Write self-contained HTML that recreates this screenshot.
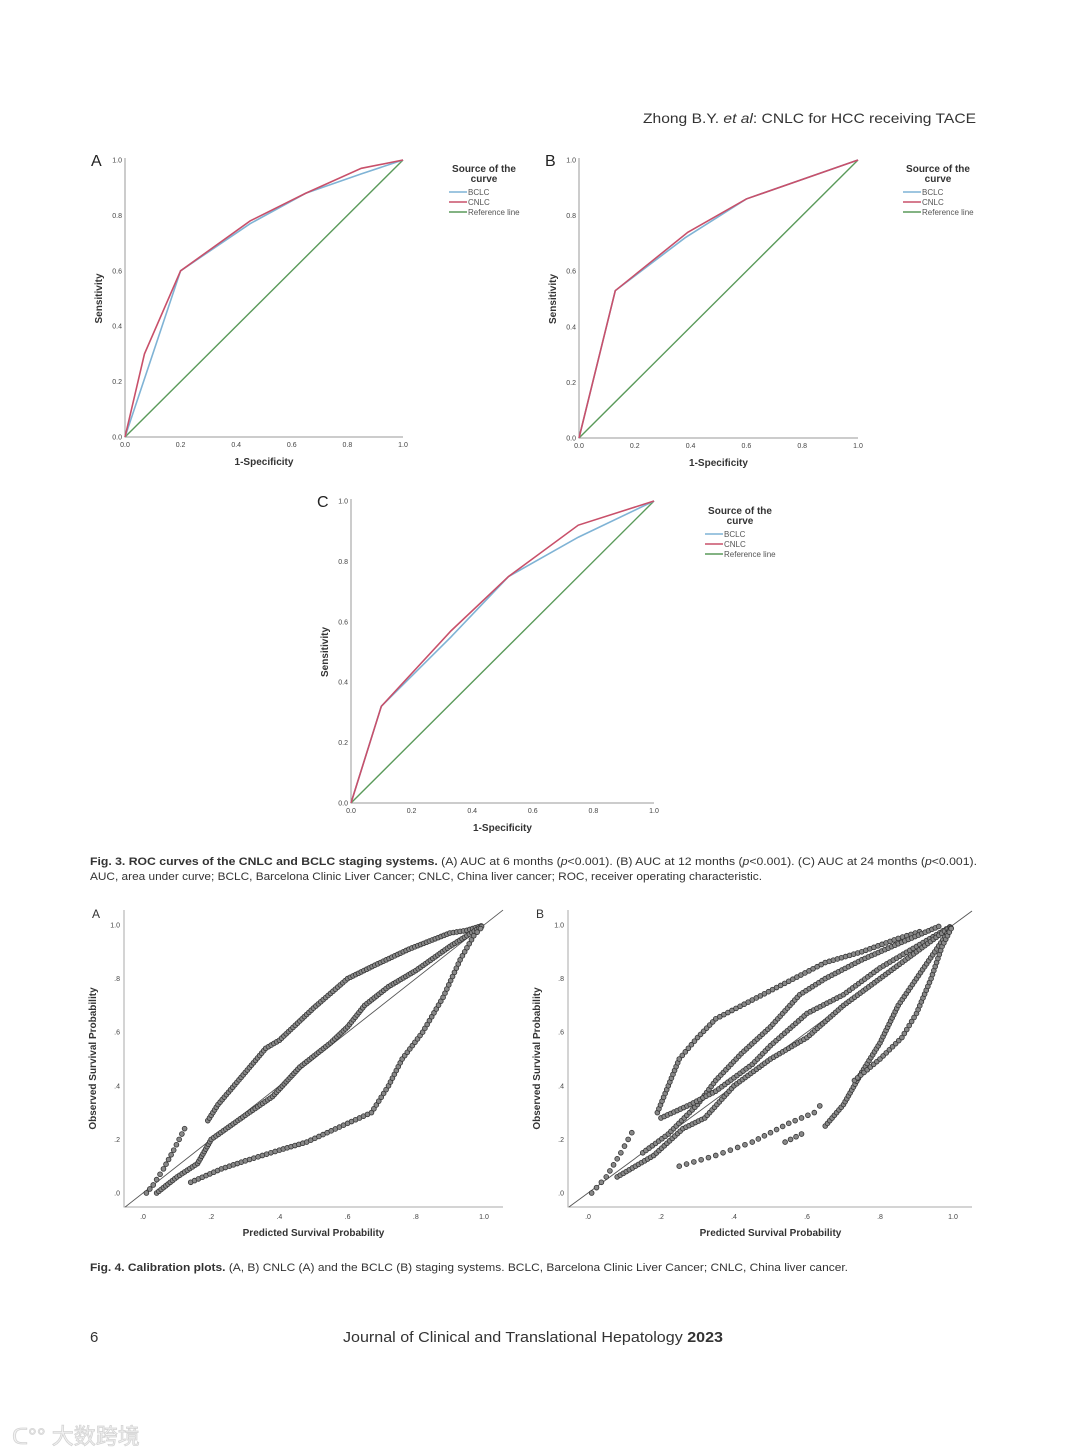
<!DOCTYPE html>
<html><head><meta charset="utf-8"><style>
html,body{margin:0;padding:0;background:#fff;}
svg{display:block;}
text{font-family:"Liberation Sans","Noto Sans CJK SC",sans-serif;}
</style></head><body>
<svg id="page" width="1080" height="1454" viewBox="0 0 1080 1454" xmlns="http://www.w3.org/2000/svg">
<rect width="1080" height="1454" fill="#fff"/>
<text x="976" y="123" text-anchor="end" font-size="14" fill="#333" textLength="333" lengthAdjust="spacingAndGlyphs">Zhong B.Y. <tspan font-style="italic">et al</tspan>: CNLC for HCC receiving TACE</text>
<g id="charts"></g>
<text x="90" y="865" font-size="11" fill="#333" textLength="887" lengthAdjust="spacingAndGlyphs"><tspan font-weight="bold">Fig. 3.  ROC curves of the CNLC and BCLC staging systems.</tspan> (A) AUC at 6 months (<tspan font-style="italic">p</tspan>&lt;0.001). (B) AUC at 12 months (<tspan font-style="italic">p</tspan>&lt;0.001). (C) AUC at 24 months (<tspan font-style="italic">p</tspan>&lt;0.001).</text>
<text x="90" y="880" font-size="11" fill="#333" textLength="672" lengthAdjust="spacingAndGlyphs">AUC, area under curve; BCLC, Barcelona Clinic Liver Cancer; CNLC, China liver cancer; ROC, receiver operating characteristic.</text>
<text x="90" y="1271" font-size="11" fill="#333" textLength="758" lengthAdjust="spacingAndGlyphs"><tspan font-weight="bold">Fig. 4.  Calibration plots.</tspan> (A, B) CNLC (A) and the BCLC (B) staging systems. BCLC, Barcelona Clinic Liver Cancer; CNLC, China liver cancer.</text>
<text x="90" y="1342" font-size="15" fill="#333">6</text>
<text x="343" y="1342" font-size="15" fill="#333" textLength="380" lengthAdjust="spacingAndGlyphs">Journal of Clinical and Translational Hepatology <tspan font-weight="bold">2023</tspan></text>
<text x="12" y="1444" font-size="22" fill="#f2f2f2" stroke="#d4d4d4" stroke-width="0.8">ᑕ°° 大数跨境</text>
</svg>
<script>
// ROC data
const rocA_bclc_x=[0,0.2,0.45,0.65,0.85,1];
const rocA_bclc_y=[0,0.6,0.77,0.88,0.95,1];
const rocA_cnlc_x=[0,0.07,0.2,0.45,0.65,0.85,1];
const rocA_cnlc_y=[0,0.3,0.6,0.78,0.88,0.97,1];
const rocB_bclc_x=[0,0.13,0.38,0.6,1];
const rocB_bclc_y=[0,0.53,0.72,0.86,1];
const rocB_cnlc_x=[0,0.13,0.39,0.6,1];
const rocB_cnlc_y=[0,0.53,0.74,0.86,1];
const rocC_bclc_x=[0,0.1,0.33,0.52,0.75,1];
const rocC_bclc_y=[0,0.32,0.55,0.75,0.88,1];
const rocC_cnlc_x=[0,0.1,0.33,0.52,0.75,1];
const rocC_cnlc_y=[0,0.32,0.57,0.75,0.92,1];
const rocTicks=["0.0","0.2","0.4","0.6","0.8","1.0"];
const calTicks=[".0",".2",".4",".6",".8","1.0"];
// calibration bands (observed vs predicted), A = CNLC
const calA_upper1=[[0.01,0.0],[0.03,0.03],[0.06,0.09],[0.09,0.16],[0.13,0.26]];
const calA_upper2=[[0.19,0.27],[0.22,0.33],[0.3,0.45],[0.36,0.54],[0.4,0.57],[0.5,0.69],[0.6,0.8],[0.68,0.85],[0.78,0.91],[0.9,0.97],[0.95,0.98],[1,1]];
const calA_middle=[[0.04,0.0],[0.1,0.06],[0.16,0.11],[0.2,0.2],[0.3,0.29],[0.38,0.36],[0.46,0.47],[0.55,0.56],[0.6,0.62],[0.65,0.7],[0.72,0.77],[0.8,0.83],[0.9,0.92],[0.95,0.96],[1,1]];
const calA_lower=[[0.14,0.04],[0.23,0.09],[0.3,0.12],[0.4,0.16],[0.48,0.19],[0.6,0.26],[0.67,0.3],[0.72,0.4],[0.76,0.5],[0.82,0.6],[0.88,0.73],[0.93,0.87],[0.97,0.96],[1,1]];
// B = BCLC
const calB_b1a=[[0.01,0.0],[0.05,0.06],[0.09,0.15],[0.13,0.25]];
const calB_b1b=[[0.19,0.3],[0.22,0.4],[0.25,0.5],[0.3,0.58],[0.35,0.65],[0.45,0.72],[0.55,0.79],[0.65,0.86],[0.75,0.9],[0.85,0.95],[0.92,0.98]];
const calB_b2=[[0.15,0.15],[0.22,0.22],[0.3,0.33],[0.35,0.42],[0.42,0.52],[0.5,0.62],[0.58,0.74],[0.65,0.8],[0.75,0.87],[0.85,0.93],[0.97,1]];
const calB_b3=[[0.2,0.28],[0.28,0.33],[0.35,0.38],[0.45,0.48],[0.5,0.55],[0.6,0.67],[0.7,0.74],[0.8,0.84],[0.9,0.92],[1,1]];
const calB_b4=[[0.08,0.06],[0.18,0.14],[0.26,0.24],[0.32,0.28],[0.4,0.4],[0.5,0.5],[0.6,0.58],[0.7,0.7],[0.8,0.8],[0.9,0.9],[1,1]];
const calB_b5=[[0.25,0.1],[0.35,0.14],[0.45,0.19],[0.55,0.26],[0.62,0.3],[0.65,0.35]];
const calB_b6=[[0.54,0.19],[0.6,0.23]];
const calB_b7=[[0.65,0.25],[0.7,0.33],[0.75,0.45],[0.8,0.56],[0.85,0.7],[0.9,0.8],[0.95,0.9],[1,1]];
const calB_b8=[[0.73,0.42],[0.8,0.5],[0.86,0.58],[0.9,0.67],[0.94,0.8],[0.97,0.92],[1,1]];

const NS="http://www.w3.org/2000/svg";
const root=document.getElementById('charts');
function mk(tag,attrs,parent){const e=document.createElementNS(NS,tag);for(const k in attrs)e.setAttribute(k,attrs[k]);(parent||root).appendChild(e);return e;}

function rocChart(letter,ox,oy,x1,y1,series,legX,legY){
  const g=mk('g',{});
  
  
  const sx=v=>ox+v*(x1-ox), sy=v=>oy-v*(oy-y1);
  const lab=mk('text',{x:ox-34,y:y1+6,'font-size':16,fill:'#222'},g);lab.textContent=letter;
  
  
  const ax=mk('path',{d:`M${ox} ${y1-2}V${oy}H${x1}`,stroke:'#999',fill:'none','stroke-width':1},g);
  
  
  rocTicks.forEach((t,i)=>{const v=i/5;
    const tx=mk('text',{x:sx(v),y:oy+10,'font-size':7,fill:'#444','text-anchor':'middle'},g);tx.textContent=t;
    
    
    const ty=mk('text',{x:ox-3,y:sy(v)+2.5,'font-size':7,fill:'#444','text-anchor':'end'},g);ty.textContent=t;
    
    
  });
  const xt=mk('text',{x:(ox+x1)/2,y:oy+28,'font-size':10,'font-weight':'bold',fill:'#333','text-anchor':'middle'},g);xt.textContent='1-Specificity';
  
  
  const yt=mk('text',{x:0,y:0,'font-size':10,'font-weight':'bold',fill:'#333','text-anchor':'middle',transform:`translate(${ox-23},${(oy+y1)/2}) rotate(-90)`},g);yt.textContent='Sensitivity';
  
  
  const ref=mk('line',{x1:sx(0),y1:sy(0),x2:sx(1),y2:sy(1),stroke:'#5a9a5a','stroke-width':1.4},g);
  
  
  series.forEach(s=>{
    const p=mk('polyline',{points:s.x.map((v,i)=>sx(v)+','+sy(s.y[i])).join(' '),fill:'none',stroke:s.c,'stroke-width':1.6},g);
    
    
  });
  const lt=mk('text',{x:legX,y:legY,'font-size':10,'font-weight':'bold',fill:'#333','text-anchor':'middle'},g);lt.textContent='Source of the';
  
  
  const lt2=mk('text',{x:legX,y:legY+10,'font-size':10,'font-weight':'bold',fill:'#333','text-anchor':'middle'},g);lt2.textContent='curve';
  
  
  [['BCLC','#7fb3d5'],['CNLC','#c8506a'],['Reference line','#5a9a5a']].forEach((e,i)=>{
    const yy=legY+20+i*10;
    const ln=mk('line',{x1:legX-35,y1:yy,x2:legX-17,y2:yy,stroke:e[1],'stroke-width':1.4},g);
    
    
    const tx=mk('text',{x:legX-16,y:yy+3,'font-size':8,fill:'#555'},g);tx.textContent=e[0];
    
    
  });
}
rocChart('A',125,437,403,160,[{x:rocA_bclc_x,y:rocA_bclc_y,c:'#7fb3d5',n:'bclc'},{x:rocA_cnlc_x,y:rocA_cnlc_y,c:'#c8506a',n:'cnlc'}],484,172);
rocChart('B',579,438,858,160,[{x:rocB_bclc_x,y:rocB_bclc_y,c:'#7fb3d5',n:'bclc'},{x:rocB_cnlc_x,y:rocB_cnlc_y,c:'#c8506a',n:'cnlc'}],938,172);
rocChart('C',351,803,654,501,[{x:rocC_bclc_x,y:rocC_bclc_y,c:'#7fb3d5',n:'bclc'},{x:rocC_cnlc_x,y:rocC_cnlc_y,c:'#c8506a',n:'cnlc'}],740,514);

function calChart(letter,left,right,top,bottom,x0,x1,yb,yt,bands){
  const g=mk('g',{});
  
  
  const sx=v=>x0+v*(x1-x0), sy=v=>yb-v*(yb-yt);
  const lab=mk('text',{x:left-32,y:top+8,'font-size':12,fill:'#333'},g);lab.textContent=letter;
  
  
  const ax=mk('path',{d:`M${left} ${top}V${bottom}H${right}`,stroke:'#aaa',fill:'none','stroke-width':1},g);
  
  
  calTicks.forEach((t,i)=>{const v=i/5;
    const tx=mk('text',{x:sx(v),y:bottom+12,'font-size':7,fill:'#444','text-anchor':'middle'},g);tx.textContent=t;
    
    
    const ty=mk('text',{x:left-4,y:sy(v)+2.5,'font-size':7,fill:'#444','text-anchor':'end'},g);ty.textContent=t;
    
    
  });
  const xt=mk('text',{x:(x0+x1)/2,y:bottom+29,'font-size':10,'font-weight':'bold',fill:'#333','text-anchor':'middle'},g);xt.textContent='Predicted Survival Probability';
  
  
  const yt2=mk('text',{x:0,y:0,'font-size':10,'font-weight':'bold',fill:'#333','text-anchor':'middle',transform:`translate(${left-28},${(top+bottom)/2}) rotate(-90)`},g);yt2.textContent='Observed Survival Probability';
  
  
  const vmin=Math.max((left-x0)/(x1-x0),(yb-bottom)/(yb-yt)), vmax=Math.min((right-x0)/(x1-x0),(yb-top)/(yb-yt));
  const d=mk('line',{x1:sx(vmin),y1:sy(vmin),x2:sx(vmax),y2:sy(vmax),stroke:'#555','stroke-width':0.9},g);
  
  
  bands.forEach(b=>{
    const pts=b.p.map(q=>[sx(q[0]),sy(q[1])]);
    for(let i=0;i<pts.length-1;i++){
      const [ax1,ay1]=pts[i],[bx,by]=pts[i+1];
      const L=Math.hypot(bx-ax1,by-ay1), n=Math.max(1,Math.round(L/(b.s*1.45)));
      for(let k=0;k<n;k++){const t=k/n;
        const c=mk('circle',{cx:ax1+(bx-ax1)*t,cy:ay1+(by-ay1)*t,r:2.4,fill:'#888',stroke:'#333','stroke-width':0.8},g);
        
        
      }
    }
  });
}
calChart('A',124,503,910,1207,143,484,1193,925,[
 {p:calA_upper1,s:4},{p:calA_upper2,s:2.2},{p:calA_middle,s:2},{p:calA_lower,s:3}
]);
calChart('B',568,972,910,1207,588,953,1193,925,[
 {p:calB_b1a,s:5},{p:calB_b1b,s:3},{p:calB_b2,s:2.6},{p:calB_b3,s:2.6},{p:calB_b4,s:2.4},{p:calB_b5,s:5},{p:calB_b6,s:4},{p:calB_b7,s:2.4},{p:calB_b8,s:3}
]);
</script>
</body></html>
